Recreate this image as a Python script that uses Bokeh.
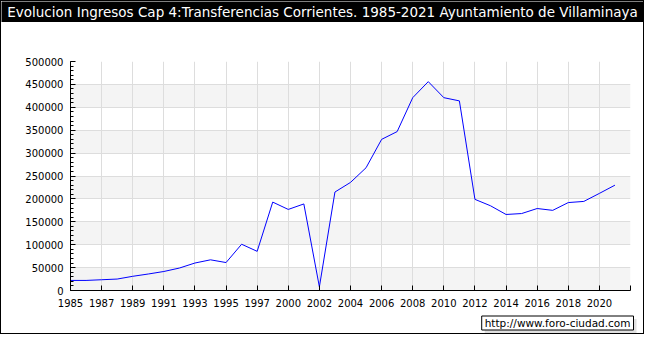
from bokeh.plotting import figure
from bokeh.layouts import column
from bokeh.models import (Range1d, FixedTicker, SingleIntervalTicker, Label,
                          BoxAnnotation, ColumnDataSource, BasicTickFormatter)
from bokeh.embed import file_html
from bokeh.resources import INLINE

title_text = "Evolucion Ingresos Cap 4:Transferencias Corrientes. 1985-2021 Ayuntamiento de Villaminaya"
watermark = "http://www.foro-ciudad.com"

years = ["1985", "1986", "1987", "1988", "1989", "1990", "1991", "1992", "1993",
         "1994", "1995", "1996", "1997", "1998", "2000", "2001", "2002", "2003",
         "2004", "2005", "2006", "2007", "2008", "2009", "2010", "2011", "2012",
         "2013", "2014", "2015", "2016", "2017", "2018", "2019", "2020", "2021"]
values = [22000, 22000, 23500, 25000, 31000, 36000, 41500, 49000, 60000,
          67000, 61000, 101000, 85500, 193000, 177000, 189000, 8000, 215000,
          236000, 268000, 330000, 347000, 421000, 456000, 421000, 414000, 199000,
          185000, 166000, 168000, 179000, 175000, 192000, 194500, 212000, 230000]

y_max = 500000
y_step = 50000

W = 642
H_TOP, H_MAIN, H_BOT = 21, 290, 21


def bare(width, height, bg):
    f = figure(width=width, height=height, output_backend="svg",
               toolbar_location=None, x_axis_type=None, y_axis_type=None,
               x_range=Range1d(0, width), y_range=Range1d(0, height),
               min_border=0, frame_align=False)
    f.min_border_left = f.min_border_right = 0
    f.min_border_top = f.min_border_bottom = 0
    f.outline_line_color = None
    f.background_fill_color = bg
    f.border_fill_color = bg
    f.grid.visible = False
    return f


# ---- title bar ----
top = bare(W, H_TOP, "black")
top.add_layout(Label(x=W / 2, y=H_TOP / 2, text=title_text, text_align="center",
                     text_baseline="middle", text_color="white",
                     text_font="DejaVu Sans", text_font_size="13.5px"))

# ---- main chart ----
n = len(years)
src = ColumnDataSource(dict(x=list(range(n)), y=values, year=years))

p = figure(width=W, height=H_MAIN, output_backend="svg", toolbar_location=None,
           x_range=Range1d(0, n), y_range=Range1d(0, y_max),
           min_border_left=69, min_border_right=13, min_border_top=39,
           min_border_bottom=22, frame_align=False)
p.outline_line_color = None
p.background_fill_color = "white"
p.border_fill_color = "white"

xt = FixedTicker(ticks=list(range(0, n + 1, 2)), minor_ticks=[])
p.xaxis.ticker = xt
p.xgrid.ticker = xt
ov = {i: years[i] for i in range(0, n, 2)}
ov[n] = ""
p.xaxis.major_label_overrides = ov

yt = SingleIntervalTicker(interval=y_step, num_minor_ticks=5)
p.yaxis.ticker = yt
p.ygrid.ticker = yt
p.yaxis.formatter = BasicTickFormatter(use_scientific=False)

for ax in (p.xaxis[0], p.yaxis[0]):
    ax.axis_line_color = "black"
    ax.major_tick_line_color = "black"
    ax.minor_tick_line_color = "black"
    ax.major_tick_in = 5
    ax.major_tick_out = 0
    ax.minor_tick_in = 3
    ax.minor_tick_out = 0
    ax.major_label_text_font = "DejaVu Sans"
    ax.major_label_text_font_size = "10px"
    ax.major_label_text_color = "black"
p.xaxis.major_label_standoff = 8
p.yaxis.major_label_standoff = 7

p.xgrid.grid_line_color = "#dddddd"
p.ygrid.grid_line_color = "#dddddd"

# alternating light bands (0-50000, 100000-150000, ...)
for b in range(0, y_max, 2 * y_step):
    p.add_layout(BoxAnnotation(bottom=b, top=b + y_step, fill_color="#f4f4f4",
                               fill_alpha=1, line_color=None, level="image"))

p.line("x", "y", source=src, line_color="#0000ff", line_width=1)

# ---- watermark strip ----
bot = bare(W, H_BOT, "white")
bot.add_layout(Label(x=635, y=7.5, text=watermark, text_align="right",
                     text_baseline="middle", text_color="#e0e0e0",
                     text_font="DejaVu Sans", text_font_size="10.5px",
                     background_fill_color="#e0e0e0",
                     padding=dict(left=3, right=3, top=1, bottom=1)))
bot.add_layout(Label(x=632, y=10.5, text=watermark, text_align="right",
                     text_baseline="middle", text_color="black",
                     text_font="DejaVu Sans", text_font_size="10.5px",
                     background_fill_color="white", border_line_color="black",
                     border_line_width=1,
                     padding=dict(left=3, right=3, top=1, bottom=1)))

layout = column(top, p, bot, spacing=0,
                styles={"border": "1px solid black"})

open("out.html", "w").write(file_html(layout, INLINE))
